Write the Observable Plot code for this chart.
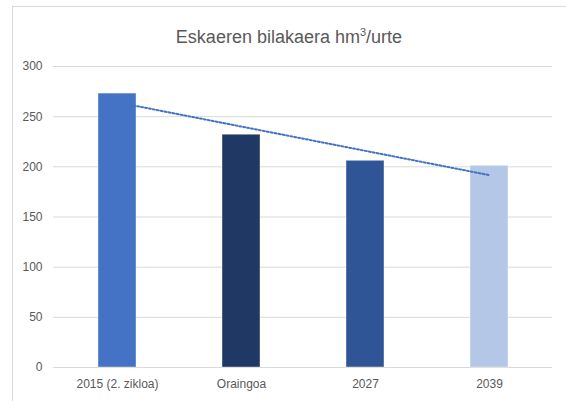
<!DOCTYPE html>
<html><head><meta charset="utf-8">
<script src="https://cdn.jsdelivr.net/npm/d3@7"></script>
<script src="https://cdn.jsdelivr.net/npm/@observablehq/plot@0.6"></script>
<style>
html,body{margin:0;padding:0;background:#fff;overflow:hidden;width:566px;height:401px;}
body{font-family:"Liberation Sans",sans-serif;position:relative;}
#frame{position:absolute;left:12px;top:6px;width:600px;height:450px;border-top:1px solid #d9d9d9;border-left:1px solid #d9d9d9;}
#title{position:relative;height:50px;box-sizing:border-box;padding-top:26px;line-height:22px;text-align:center;font-size:18px;color:#595959;padding-left:12px;}
#title sup{font-size:11px;line-height:0;}
#chart{position:relative;}
</style></head>
<body>
<div id="frame"></div>
<div id="title">Eskaeren bilakaera hm<sup>3</sup>/urte</div>
<div id="chart"></div>
<script>
const categories = ["2015 (2. zikloa)", "Oraingoa", "2027", "2039"];
const values = [273, 232, 206, 201];
const colors = ["#4472C4", "#203864", "#2F5597", "#B4C7E7"];
const yTicks = [0, 50, 100, 150, 200, 250, 300];

const data = categories.map((c, i) => ({category: c, value: values[i], color: colors[i], i}));

// linear trend line (least squares over category index)
const mx = d3.mean(data, d => d.i), my = d3.mean(data, d => d.value);
const slope = d3.sum(data, d => (d.i - mx) * (d.value - my)) / d3.sum(data, d => (d.i - mx) ** 2);
const trend = data.map(d => ({category: d.category, value: my + slope * (d.i - mx)}));

const chart = Plot.plot({
  width: 566,
  height: 351,
  marginTop: 16,
  marginBottom: 34,
  marginLeft: 53,
  marginRight: 14,
  style: {fontFamily: "Liberation Sans, sans-serif", fontSize: "12px", color: "#595959", background: "transparent"},
  x: {domain: categories, paddingInner: 0.695, paddingOuter: 0.3475, label: null},
  y: {domain: [0, 300], label: null},
  marks: [
    Plot.gridY(yTicks, {stroke: "#d9d9d9", strokeOpacity: 1, strokeWidth: 1}),
    Plot.axisY(yTicks, {tickSize: 0, tickPadding: 11, label: null, fill: "#595959", fontSize: 12}),
    Plot.axisX({tickSize: 0, tickPadding: 12, label: null, fill: "#595959", fontSize: 12}),
    Plot.barY(data, {x: "category", y: "value", fill: "color", stroke: "#ffffff", strokeOpacity: 0.4, strokeWidth: 1}),
    Plot.line(trend, {x: "category", y: "value", stroke: "#4472C4", strokeWidth: 2, strokeDasharray: "2,2"})
  ]
});
document.getElementById("chart").appendChild(chart);
</script>
</body></html>
